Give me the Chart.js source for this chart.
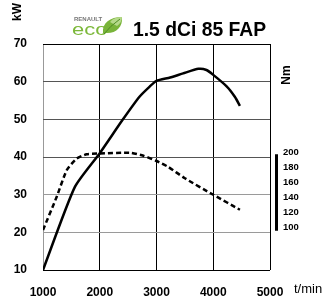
<!DOCTYPE html>
<html>
<head>
<meta charset="utf-8">
<script src="https://cdn.jsdelivr.net/npm/chart.js@4/dist/chart.umd.min.js"></script>
<style>
html,body{margin:0;padding:0;background:#fff;}
#wrap{width:325px;height:302px;position:relative;}
</style>
</head>
<body>
<div id="wrap"><canvas id="c" width="325" height="302"></canvas></div>
<script>
// ---- data ----
const rpmTicks = [1000, 2000, 3000, 4000, 5000];
const kwTicks = [10, 20, 30, 40, 50, 60, 70];
const nmTicks = [100, 120, 140, 160, 180, 200];

const rpmPower = [1000, 1560, 2000, 2400, 2700, 2880, 3000, 3240, 3470, 3740, 3880, 4000, 4240, 4380, 4470];
const powerKW  = [10,   32,   41,   49.8, 56,   58.7, 60.2, 61.1, 62.2, 63.4, 63.1, 61.8, 58.7, 56,   53.6];

const rpmTorque = [1000, 1240, 1420, 1590, 1770, 2000, 2530, 2770, 3000, 3210, 3500, 4000, 4470];
const torqueNm  = [96,   140,  176,  191,  197,  198,  199,  195,  188,  180,  165,  143,  123];

const powerPts = rpmPower.map((x, i) => ({x, y: powerKW[i]}));
const torquePts = rpmTorque.map((x, i) => ({x, y: torqueNm[i]}));

const FONT = '"Liberation Sans", Arial, sans-serif';

const decor = {
  id: 'decor',
  afterDraw(chart) {
    const ctx = chart.ctx;
    const y2 = chart.scales.y2;
    ctx.save();
    // Nm bar
    ctx.fillStyle = '#000';
    const top = y2.getPixelForValue(197), bot = y2.getPixelForValue(95);
    ctx.fillRect(275, top, 3, bot - top);
    // axis titles
    ctx.fillStyle = '#000';
    ctx.font = 'bold 12px ' + FONT;
    ctx.textAlign = 'center';
    ctx.textBaseline = 'middle';
    ctx.save(); ctx.translate(18, 12); ctx.rotate(-Math.PI / 2); ctx.fillText('kW', 0, 0); ctx.restore();
    ctx.save(); ctx.translate(287, 75); ctx.rotate(-Math.PI / 2); ctx.fillText('Nm', 0, 0); ctx.restore();
    ctx.font = '13px ' + FONT;
    ctx.textAlign = 'left';
    ctx.fillText('t/min', 294, 289);
    // title
    ctx.save();
    ctx.font = 'bold 21px ' + FONT;
    ctx.textBaseline = 'alphabetic';
    ctx.translate(133, 36);
    ctx.scale(0.92, 1);
    ctx.fillText('1.5 dCi 85 FAP', 0, 0);
    ctx.restore();
    // logo
    ctx.font = 'bold 6px ' + FONT;
    ctx.fillStyle = '#777';
    ctx.textBaseline = 'alphabetic';
    ctx.fillText('RENAULT', 74, 21);
    ctx.save();
    ctx.font = '20px ' + FONT;
    ctx.fillStyle = '#7cb83a';
    ctx.translate(72, 35);
    ctx.scale(1.1, 0.8);
    ctx.fillText('eco', 0, 0);
    ctx.restore();
    // leaf
    ctx.beginPath();
    ctx.moveTo(103, 33);
    ctx.bezierCurveTo(102, 23, 110, 17, 122, 17);
    ctx.bezierCurveTo(123, 27, 116, 34, 105, 33);
    ctx.closePath();
    ctx.fillStyle = '#79b43a';
    ctx.fill();
    ctx.beginPath();
    ctx.moveTo(110, 22);
    ctx.bezierCurveTo(113, 18, 118, 17, 122, 17);
    ctx.bezierCurveTo(122, 21, 120, 24, 117, 26);
    ctx.closePath();
    ctx.fillStyle = '#b5d98a';
    ctx.fill();
    ctx.strokeStyle = '#4f8c24';
    ctx.lineWidth = 1;
    ctx.beginPath();
    ctx.moveTo(104, 34);
    ctx.quadraticCurveTo(110, 26, 120, 19);
    ctx.stroke();
    ctx.restore();
  }
};

new Chart(document.getElementById('c'), {
  type: 'line',
  data: {
    datasets: [
      {label: 'Power', data: powerPts, yAxisID: 'y', borderColor: '#000', borderWidth: 2.5,
       pointRadius: 0, tension: 0.2, fill: false},
      {label: 'Torque', data: torquePts, yAxisID: 'y2', borderColor: '#000', borderWidth: 2.5,
       borderDash: [5, 3], pointRadius: 0, tension: 0.2, fill: false}
    ]
  },
  options: {
    responsive: false,
    animation: false,
    events: [],
    layout: {padding: {top: 44, left: 0, right: 0, bottom: 0}},
    plugins: {legend: {display: false}, tooltip: {enabled: false}, title: {display: false}},
    scales: {
      x: {
        type: 'linear', min: 1000, max: 5000,
        afterBuildTicks: s => { s.ticks = rpmTicks.map(v => ({value: v})); },
        afterFit: s => { s.height = 32; },
        border: {display: false},
        grid: {drawTicks: false, lineWidth: 1,
               color: c => c.tick && c.tick.value === 1000 ? '#999' : '#000'},
        ticks: {padding: 15, color: '#000', font: {family: FONT, size: 12, weight: 'bold'}, maxRotation: 0,
                callback: v => String(v)}
      },
      y: {
        type: 'linear', position: 'left', min: 10, max: 70,
        afterBuildTicks: s => { s.ticks = kwTicks.map(v => ({value: v})); },
        afterFit: s => { s.width = 43; },
        border: {display: false},
        grid: {drawTicks: false, lineWidth: 1,
               color: c => {
                 const v = c.tick ? c.tick.value : 0;
                 if (v === 10 || v === 70) return '#000';
                 if (v <= 30) return '#9a9a9a';
                 return '#555';
               }},
        ticks: {padding: 16, color: '#000', font: {family: FONT, size: 12, weight: 'bold'},
                callback: v => String(v)}
      },
      y2: {
        type: 'linear', position: 'right', min: 42.67, max: 344,
        afterBuildTicks: s => { s.ticks = nmTicks.map(v => ({value: v})); },
        afterFit: s => { s.width = 55; },
        border: {display: false},
        grid: {display: false, drawTicks: false},
        ticks: {padding: 13, color: '#000', font: {family: FONT, size: 9.5, weight: 'bold'},
                callback: v => String(v)}
      }
    }
  },
  plugins: [decor]
});
</script>
</body>
</html>
